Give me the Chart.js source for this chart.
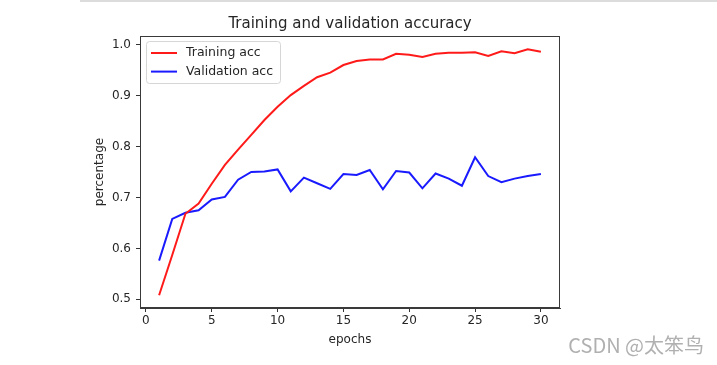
<!DOCTYPE html>
<html>
<head>
<meta charset="utf-8">
<script src="https://cdn.jsdelivr.net/npm/chart.js@4"></script>
<style>
  html, body { margin: 0; padding: 0; background: #ffffff; }
  #wrap { position: relative; width: 717px; height: 365px; }
  canvas { display: block; }
</style>
</head>
<body>
<div id="wrap"><canvas id="c" width="717" height="365"></canvas></div>
<script>
// ---- data ----
const epochs = [1,2,3,4,5,6,7,8,9,10,11,12,13,14,15,16,17,18,19,20,21,22,23,24,25,26,27,28,29,30];
const trainAcc = [0.508, 0.587, 0.668, 0.688, 0.727, 0.764, 0.794, 0.823, 0.852, 0.878, 0.901, 0.919, 0.936, 0.945, 0.960, 0.968, 0.971, 0.971, 0.982, 0.980, 0.976, 0.982, 0.984, 0.984, 0.985, 0.978, 0.987, 0.983, 0.991, 0.986];
const valAcc = [0.576, 0.658, 0.670, 0.675, 0.696, 0.701, 0.735, 0.750, 0.751, 0.755, 0.712, 0.739, 0.728, 0.717, 0.746, 0.744, 0.754, 0.716, 0.752, 0.749, 0.718, 0.747, 0.737, 0.723, 0.779, 0.742, 0.730, 0.737, 0.742, 0.746];
const xTicks = [0, 5, 10, 15, 20, 25, 30];
const yTicks = [0.5, 0.6, 0.7, 0.8, 0.9, 1.0];
const seriesNames = ['Training acc', 'Validation acc'];
const titleText = 'Training and validation accuracy';
const xLabel = 'epochs';
const yLabel = 'percentage';
const watermark = 'CSDN @太笨鸟';

const FONT = 'DejaVu Sans';
const TXT = '#262626';

const toPts = (ys) => epochs.map((e, i) => ({ x: e, y: ys[i] }));

// frame (top/right spines), legend box, watermark, top rule
const decor = {
  id: 'decor',
  afterLayout(chart) {
    // centre the title over the axes, as matplotlib does
    const tb = chart.titleBlock;
    if (tb) {
      tb.left = chart.chartArea.left;
      tb.right = chart.chartArea.right;
      tb.width = tb.right - tb.left;
    }
  },
  beforeDraw(chart) {
    const ctx = chart.ctx;
    ctx.save();
    ctx.fillStyle = '#ffffff';
    ctx.fillRect(0, 0, chart.width, chart.height);
    ctx.fillStyle = '#dcdcdc';
    ctx.fillRect(80, 0, chart.width - 80, 2);
    ctx.restore();
  },
  afterDatasetsDraw(chart) {
    const ctx = chart.ctx;
    const a = chart.chartArea;
    ctx.save();
    // spines
    ctx.strokeStyle = '#3a3a3a';
    ctx.lineWidth = 1;
    ctx.strokeRect(Math.round(a.left) + 0.5, Math.round(a.top) + 0.5,
                   Math.round(a.right - a.left) - 1, Math.round(a.bottom - a.top) - 1);
    // legend
    const bx = a.left + 6.5, by = a.top + 5.5, bw = 134, bh = 42, r = 3;
    ctx.beginPath();
    ctx.moveTo(bx + r, by);
    ctx.lineTo(bx + bw - r, by);
    ctx.quadraticCurveTo(bx + bw, by, bx + bw, by + r);
    ctx.lineTo(bx + bw, by + bh - r);
    ctx.quadraticCurveTo(bx + bw, by + bh, bx + bw - r, by + bh);
    ctx.lineTo(bx + r, by + bh);
    ctx.quadraticCurveTo(bx, by + bh, bx, by + bh - r);
    ctx.lineTo(bx, by + r);
    ctx.quadraticCurveTo(bx, by, bx + r, by);
    ctx.closePath();
    ctx.fillStyle = 'rgba(255,255,255,0.8)';
    ctx.fill();
    ctx.strokeStyle = '#d6d6d6';
    ctx.lineWidth = 1;
    ctx.stroke();
    ctx.font = '12.5px "' + FONT + '"';
    ctx.textBaseline = 'middle';
    ctx.textAlign = 'left';
    chart.data.datasets.forEach((ds, i) => {
      const y = a.top + 17 + i * 18.6;
      ctx.strokeStyle = ds.borderColor;
      ctx.lineWidth = 2;
      ctx.beginPath();
      ctx.moveTo(a.left + 11, y);
      ctx.lineTo(a.left + 37, y);
      ctx.stroke();
      ctx.fillStyle = TXT;
      ctx.fillText(ds.label, a.left + 46, y);
    });
    ctx.restore();
  },
  afterDraw(chart) {
    const ctx = chart.ctx;
    ctx.save();
    ctx.font = '20px "Noto Sans CJK SC"';
    ctx.fillStyle = '#b0b0b0';
    ctx.textBaseline = 'middle';
    ctx.textAlign = 'right';
    ctx.fillText(watermark, 704, 345);
    ctx.restore();
  }
};

new Chart(document.getElementById('c'), {
  type: 'line',
  data: {
    datasets: [
      { label: seriesNames[0], data: toPts(trainAcc), borderColor: '#ff1a1a', borderWidth: 2,
        pointRadius: 0, tension: 0, fill: false },
      { label: seriesNames[1], data: toPts(valAcc), borderColor: '#1a1aff', borderWidth: 2,
        pointRadius: 0, tension: 0, fill: false }
    ]
  },
  options: {
    responsive: false,
    devicePixelRatio: 1,
    animation: false,
    layout: { padding: { left: 92.8, right: 157, top: 0, bottom: 17.8 } },
    plugins: {
      legend: { display: false },
      tooltip: { enabled: false },
      title: {
        display: true,
        text: titleText,
        color: TXT,
        font: { family: FONT, size: 15, weight: 'normal', lineHeight: 1.2 },
        padding: { top: 15.5, bottom: 2.5 }
      }
    },
    scales: {
      x: {
        type: 'linear',
        min: -0.45,
        max: 31.45,
        afterBuildTicks: (s) => { s.ticks = xTicks.map(v => ({ value: v })); },
        afterFit: (s) => { s.height = 39.2; },
        grid: { display: true, drawOnChartArea: false, drawTicks: true, tickLength: 4,
                tickColor: '#333', tickWidth: 1 },
        border: { display: true, color: '#3a3a3a', width: 1 },
        ticks: { color: TXT, font: { family: FONT, size: 12 }, padding: 2, maxRotation: 0,
                 callback: (v) => String(v) },
        title: { display: true, text: xLabel, color: TXT, padding: 0,
                 font: { family: FONT, size: 12, lineHeight: 1.2 } }
      },
      y: {
        type: 'linear',
        min: 0.483,
        max: 1.017,
        afterBuildTicks: (s) => { s.ticks = yTicks.map(v => ({ value: v })); },
        afterFit: (s) => { s.width = 47.2; },
        grid: { display: true, drawOnChartArea: false, drawTicks: true, tickLength: 4,
                tickColor: '#333', tickWidth: 1 },
        border: { display: true, color: '#3a3a3a', width: 1 },
        ticks: { color: TXT, font: { family: FONT, size: 12 }, padding: 5,
                 callback: (v) => Number(v).toFixed(1) },
        title: { display: true, text: yLabel, color: TXT, padding: 0,
                 font: { family: FONT, size: 12, lineHeight: 1.2 } }
      }
    }
  },
  plugins: [decor]
});
</script>
</body>
</html>
